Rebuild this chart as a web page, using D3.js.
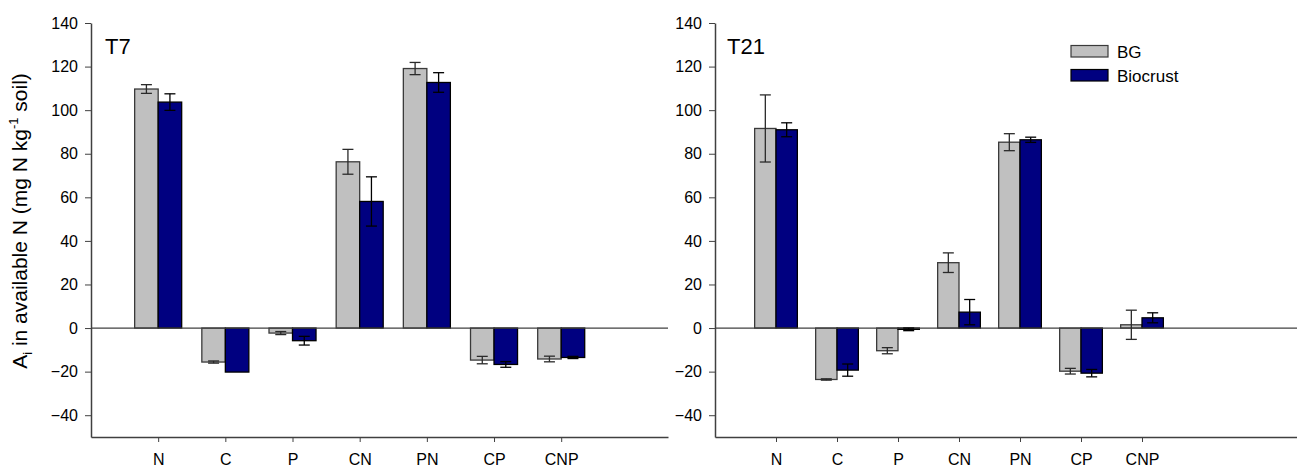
<!DOCTYPE html>
<html>
<head>
<meta charset="utf-8">
<script src="https://cdn.jsdelivr.net/npm/d3@7"></script>
<style>
  body { margin: 0; background: #fff; }
  svg { display: block; font-family: "Liberation Sans", Arial, sans-serif; }
</style>
</head>
<body>
<div id="chart"></div>
<script>
// Data
const categories = ["N", "C", "P", "CN", "PN", "CP", "CNP"];
const yTicks = [-40, -20, 0, 20, 40, 60, 80, 100, 120, 140];
const seriesNames = ["BG", "Biocrust"];

const t7BG = [109.7, -15.6, -2.3, 76.3, 119.1, -14.7, -14.2];
const t7BGErr = [2.0, 0.5, 0.7, 5.7, 2.8, 1.7, 1.3];
const t7Bio = [103.7, -20.2, -5.8, 58.1, 112.7, -16.7, -13.5];
const t7BioErr = [3.8, 0, 2.0, 11.3, 4.5, 1.3, 0.5];

const t21BG = [91.6, -23.6, -10.4, 30.0, 85.3, -19.8, 1.5];
const t21BGErr = [15.4, 0.3, 1.4, 4.5, 3.9, 1.3, 6.7];
const t21Bio = [91.0, -19.3, -0.6, 7.3, 86.4, -20.7, 4.7];
const t21BioErr = [3.2, 2.8, 0.6, 5.8, 1.2, 1.7, 2.3];

const colors = { BG: "#c0c0c0", Biocrust: "#000080" };
const strokes = { BG: "#3a3a3a", Biocrust: "#000000" };
const fontFam = "'Liberation Sans', Arial, sans-serif";

const svg = d3.select("#chart").append("svg")
  .attr("width", 1297)
  .attr("height", 471);

function drawPanel(cfg) {
  const g = svg.append("g");

  // linear index scale; first category sits one step in from the axis
  const x = d3.scaleLinear().domain([-1, cfg.slots - 1]).range([cfg.left, cfg.right]);
  const y = d3.scaleLinear().domain([-50, 140]).range([437, 23]);
  const step = x(1) - x(0);
  const bw = step * 0.35;

  // y axis
  const yAxis = g.append("g")
    .attr("transform", `translate(${cfg.left},0)`)
    .call(d3.axisLeft(y).tickValues(yTicks).tickSize(6).tickSizeOuter(0).tickPadding(7));
  yAxis.select(".domain").attr("stroke", "#404040").attr("stroke-width", 1.5);
  yAxis.selectAll(".tick line").attr("stroke", "#404040");
  yAxis.selectAll(".tick text").attr("font-size", 16).attr("fill", "#000")
    .attr("font-family", fontFam);

  // x axis
  const xAxis = g.append("g")
    .attr("transform", `translate(0,${y(-50)})`)
    .call(d3.axisBottom(x).tickValues(d3.range(categories.length))
      .tickFormat(i => categories[i]).tickSize(5).tickSizeOuter(0).tickPadding(12));
  xAxis.select(".domain").attr("stroke", "#404040").attr("stroke-width", 1.5);
  xAxis.selectAll(".tick line").attr("stroke", "#404040");
  xAxis.selectAll(".tick text").attr("font-size", 16).attr("fill", "#000")
    .attr("font-family", fontFam);

  // bars
  const series = [
    { name: "BG", vals: cfg.bg, errs: cfg.bgErr, off: -1 },
    { name: "Biocrust", vals: cfg.bio, errs: cfg.bioErr, off: 0 }
  ];

  series.forEach(s => {
    g.selectAll(null)
      .data(s.vals)
      .join("rect")
      .attr("x", (d, i) => x(i) + s.off * bw)
      .attr("y", d => y(Math.max(0, d)))
      .attr("width", bw)
      .attr("height", d => Math.abs(y(d) - y(0)))
      .attr("fill", colors[s.name])
      .attr("stroke", strokes[s.name])
      .attr("stroke-width", 1.3);
  });

  // zero line
  g.append("line")
    .attr("x1", cfg.left).attr("x2", cfg.right)
    .attr("y1", y(0)).attr("y2", y(0))
    .attr("stroke", "#404040").attr("stroke-width", 1.3);

  // error bars
  const cap = 5.5;
  series.forEach(s => {
    s.vals.forEach((v, i) => {
      const e = s.errs[i];
      if (!e) return;
      const cx = x(i) + s.off * bw + bw / 2;
      const eg = g.append("g").attr("stroke", s.name === "BG" ? "#2a2a2a" : "#000").attr("stroke-width", 1.3);
      eg.append("line").attr("x1", cx).attr("x2", cx).attr("y1", y(v - e)).attr("y2", y(v + e));
      eg.append("line").attr("x1", cx - cap).attr("x2", cx + cap).attr("y1", y(v + e)).attr("y2", y(v + e));
      eg.append("line").attr("x1", cx - cap).attr("x2", cx + cap).attr("y1", y(v - e)).attr("y2", y(v - e));
    });
  });

  // panel label
  g.append("text")
    .attr("x", cfg.left + cfg.labelDx)
    .attr("y", 54)
    .attr("font-size", 22)
    .text(cfg.label);

  return { x, y };
}

drawPanel({ left: 91, right: 668, slots: 8.59, label: "T7", labelDx: 14,
  bg: t7BG, bgErr: t7BGErr, bio: t7Bio, bioErr: t7BioErr });
drawPanel({ left: 715, right: 1300, slots: 9.59, label: "T21", labelDx: 12,
  bg: t21BG, bgErr: t21BGErr, bio: t21Bio, bioErr: t21BioErr });

// y axis title
const yTitle = svg.append("text")
  .attr("transform", "translate(27,221) rotate(-90)")
  .attr("text-anchor", "middle")
  .attr("font-size", 21);
yTitle.append("tspan").text("A");
yTitle.append("tspan").attr("font-size", 13).attr("dy", 5).text("i");
yTitle.append("tspan").attr("dy", -5).text(" in available N (mg N kg");
yTitle.append("tspan").attr("font-size", 13).attr("dy", -9).text("-1");
yTitle.append("tspan").attr("dy", 9).text(" soil)");

// legend
const legend = svg.append("g").attr("transform", "translate(1071,45.5)");
seriesNames.forEach((n, i) => {
  legend.append("rect")
    .attr("x", 0).attr("y", i * 24)
    .attr("width", 37).attr("height", 11.5)
    .attr("fill", colors[n]).attr("stroke", strokes[n]).attr("stroke-width", 1.2);
  legend.append("text")
    .attr("x", 46).attr("y", i * 24 + 12)
    .attr("font-size", 17)
    .text(n);
});
</script>
</body>
</html>
